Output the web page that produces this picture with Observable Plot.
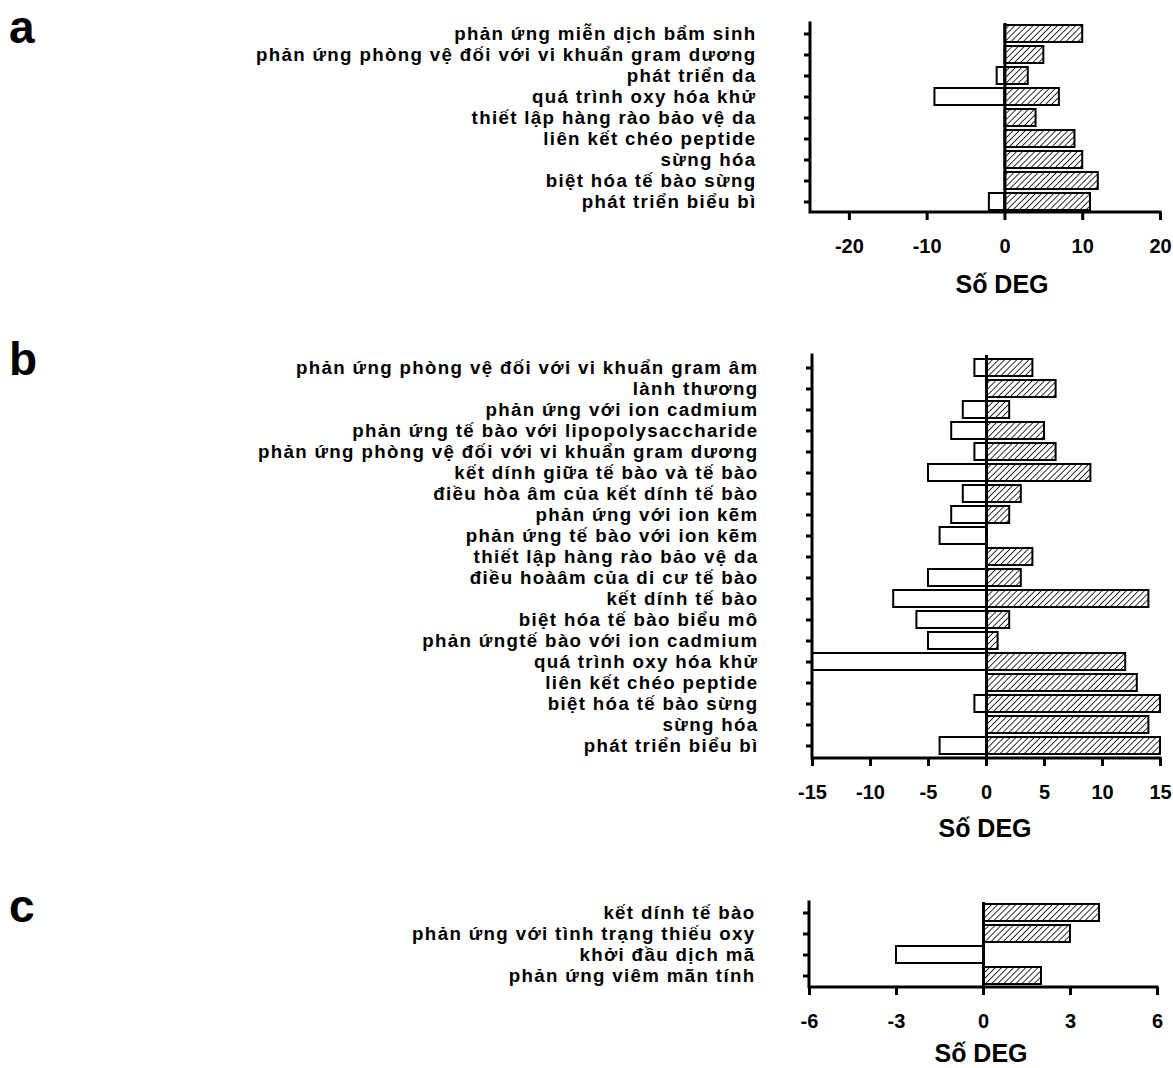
<!DOCTYPE html>
<html>
<head>
<meta charset="utf-8">
<script src="https://cdn.jsdelivr.net/npm/d3@7"></script>
<script src="https://cdn.jsdelivr.net/npm/@observablehq/plot@0.6"></script>
<style>
  html, body { margin: 0; padding: 0; background: #fff; }
  #root { position: relative; width: 1173px; height: 1068px; overflow: hidden; background: #fff; }
  .panel { position: absolute; left: 0; }
  .letter { position: absolute; font-family: "Liberation Sans", Arial, sans-serif; font-weight: 700; font-size: 46px; line-height: 1; color: #000; }
  .xtitle { position: absolute; width: 200px; text-align: center; font-family: "Liberation Sans", Arial, sans-serif; font-weight: bold; font-size: 25px; line-height: 22px; height: 22px; color: #000; }
</style>
</head>
<body>
<svg width="0" height="0" style="position:absolute">
  <defs>
    <pattern id="hatch" patternUnits="userSpaceOnUse" width="4.3" height="4.3" patternTransform="rotate(45)">
      <rect width="4.3" height="4.3" fill="white"></rect>
      <line x1="0" y1="0" x2="0" y2="4.3" stroke="black" stroke-width="1.6"></line>
    </pattern>
  </defs>
</svg>
<div id="root"></div>
<script>
// ---- Panel a data ----
const termsA = [
  "phản ứng miễn dịch bẩm sinh",
  "phản ứng phòng vệ đối với vi khuẩn gram dương",
  "phát triển da",
  "quá trình oxy hóa khử",
  "thiết lập hàng rào bảo vệ da",
  "liên kết chéo peptide",
  "sừng hóa",
  "biệt hóa tế bào sừng",
  "phát triển biểu bì"
];
const upA   = [10, 5, 3, 7, 4, 9, 10, 12, 11];
const downA = [0, 0, -1, -9, 0, 0, 0, 0, -2];
const ticksA = [-20, -10, 0, 10, 20];
const domainA = [-25, 20];

// ---- Panel b data ----
const termsB = [
  "phản ứng phòng vệ đối với vi khuẩn gram âm",
  "lành thương",
  "phản ứng với ion cadmium",
  "phản ứng tế bào với lipopolysaccharide",
  "phản ứng phòng vệ đối với vi khuẩn gram dương",
  "kết dính giữa tế bào và tế bào",
  "điều hòa âm của kết dính tế bào",
  "phản ứng với ion kẽm",
  "phản ứng tế bào với ion kẽm",
  "thiết lập hàng rào bảo vệ da",
  "điều hoàâm của di cư tế bào",
  "kết dính tế bào",
  "biệt hóa tế bào biểu mô",
  "phản ứngtế bào với ion cadmium",
  "quá trình oxy hóa khử",
  "liên kết chéo peptide",
  "biệt hóa tế bào sừng",
  "sừng hóa",
  "phát triển biểu bì"
];
const upB   = [4, 6, 2, 5, 6, 9, 3, 2, 0, 4, 3, 14, 2, 1, 12, 13, 15, 14, 15];
const downB = [-1, 0, -2, -3, -1, -5, -2, -3, -4, 0, -5, -8, -6, -5, -15, 0, -1, 0, -4];
const ticksB = [-15, -10, -5, 0, 5, 10, 15];
const domainB = [-15, 15];

// ---- Panel c data ----
const termsC = [
  "kết dính tế bào",
  "phản ứng với tình trạng thiếu oxy",
  "khởi đầu dịch mã",
  "phản ứng viêm mãn tính"
];
const upC   = [4, 3, 0, 2];
const downC = [0, 0, -3, 0];
const ticksC = [-6, -3, 0, 3, 6];
const domainC = [-6, 6];

const xTitle = "Số DEG";
const letters = ["a", "b", "c"];

function rows(terms, vals) {
  return terms.map((t, i) => ({term: t, value: vals[i]})).filter(d => d.value !== 0);
}

// draws the L-shaped axis lines along the left and bottom of the frame
function axisLines(index, scales, values, dims) {
  const x0 = dims.marginLeft, x1 = dims.width - dims.marginRight;
  const y0 = dims.marginTop, y1 = dims.height - dims.marginBottom;
  return d3.create("svg:path")
    .attr("d", `M${x0},${y0}V${y1}H${x1}`)
    .attr("fill", "none")
    .attr("stroke", "black")
    .attr("stroke-width", 3)
    .attr("stroke-linecap", "square")
    .node();
}

function panel(terms, up, down, domain, ticks, layout) {
  const chart = Plot.plot({
    width: 1173,
    height: layout.height,
    marginLeft: layout.marginLeft,
    marginRight: layout.marginRight,
    marginTop: layout.marginTop,
    marginBottom: layout.marginBottom,
    style: {fontFamily: "'Liberation Sans', Arial, sans-serif", fontWeight: "bold", fontSize: "18.7px", color: "black", background: "transparent", overflow: "visible"},
    x: {domain: domain},
    y: {domain: terms, paddingInner: 0.18, paddingOuter: 0.09},
    marks: [
      Plot.barX(rows(terms, down), {y: "term", x1: () => 0, x2: "value", fill: "white", stroke: "black", strokeWidth: 2}),
      Plot.barX(rows(terms, up), {y: "term", x1: () => 0, x2: "value", fill: "url(#hatch)", stroke: "black", strokeWidth: 2}),
      Plot.ruleX([0], {stroke: "black", strokeWidth: 3}),
      axisLines,
      Plot.axisX({ticks: ticks, tickFormat: d => String(d), tickSize: 8, tickPadding: 18, strokeWidth: 3, fontSize: 20, fontWeight: "bold", label: null}),
      Plot.axisY({tickSize: 6, tickPadding: 48, strokeWidth: 3, fontSize: 18.7, fontWeight: "bold", label: null})
    ]
  });
  // widen the term labels a little, like the reference's lettering
  chart.querySelectorAll('g[aria-label="y-axis tick label"] text')
    .forEach(t => t.setAttribute("letter-spacing", "1.35"));
  chart.classList.add("panel");
  chart.style.top = layout.top + "px";
  return chart;
}

const root = document.getElementById("root");
root.appendChild(panel(termsA, upA, downA, domainA, ticksA,
  {top: 0, height: 262, marginLeft: 810, marginRight: 13, marginTop: 23, marginBottom: 50}));
root.appendChild(panel(termsB, upB, downB, domainB, ticksB,
  {top: 330, height: 478, marginLeft: 812, marginRight: 13, marginTop: 25, marginBottom: 50}));
root.appendChild(panel(termsC, upC, downC, domainC, ticksC,
  {top: 880, height: 157, marginLeft: 809, marginRight: 16, marginTop: 22, marginBottom: 50}));

const letterPos = [[9, 4], [9, 336], [9, 883]];
letters.forEach((l, i) => {
  const d = document.createElement("div");
  d.className = "letter";
  d.textContent = l;
  d.style.left = letterPos[i][0] + "px";
  d.style.top = letterPos[i][1] + "px";
  root.appendChild(d);
});
const titlePos = [[1002, 273], [985, 817], [981, 1042]];
titlePos.forEach(([cx, top]) => {
  const d = document.createElement("div");
  d.className = "xtitle";
  d.textContent = xTitle;
  d.style.left = (cx - 100) + "px";
  d.style.top = top + "px";
  root.appendChild(d);
});
</script>
</body>
</html>
